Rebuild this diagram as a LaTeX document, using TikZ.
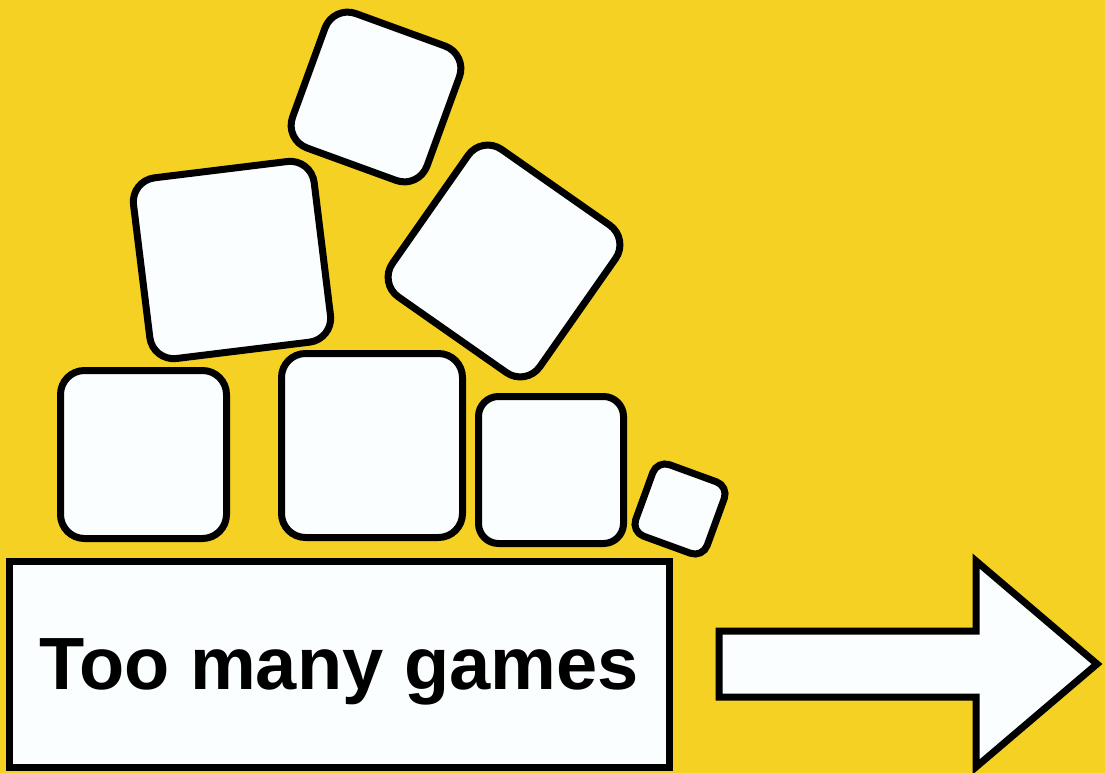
\documentclass[tikz,border=0pt]{standalone}
\usepackage{fontspec}
\setmainfont{Liberation Sans}
\definecolor{bgyellow}{RGB}{245,209,36}
\definecolor{tilewhite}{RGB}{250,254,254}
\tikzset{
  tile/.style={draw=black, fill=tilewhite, line width=7pt, rounded corners=24pt, inner sep=0pt},
}
\begin{document}
\begin{tikzpicture}[x=1pt, y=-1pt]
% background
\fill[bgyellow] (0,0) rectangle (1105,773);
\useasboundingbox (0,0) rectangle (1105,773);

% bottom row of tiles
\node[tile, minimum width=166pt, minimum height=168pt] (tileA) at (143.5,454.5) {};
\node[tile, minimum width=181pt, minimum height=184pt] (tileB) at (372,445.5) {};
\node[tile, minimum width=145pt, minimum height=147pt, rounded corners=20pt] (tileC) at (551,470) {};
\node[tile, minimum size=76pt, rounded corners=13pt, rotate=-20] (tileD) at (680,509) {};

% tilted tiles on top
\node[tile, minimum size=182pt, rotate=7] (tileE) at (232,260) {};
\node[tile, minimum size=143pt, rotate=-20] (tileF) at (376,97) {};
\node[tile, minimum size=180pt, rotate=-35] (tileG) at (504,261) {};

% label box
\node[draw=black, fill=tilewhite, line width=7pt, inner sep=0pt,
      minimum width=660pt, minimum height=206pt, text depth=0pt,
      font=\bfseries\fontsize{74}{80}\selectfont] (label) at (339,664) {Too many games};

% block arrow
\draw[line width=7pt, fill=tilewhite, line join=miter]
  (719,631) -- (976,631) -- (976,561) -- (1097,664) -- (976,767) -- (976,697) -- (719,697) -- cycle;
\end{tikzpicture}
\end{document}
